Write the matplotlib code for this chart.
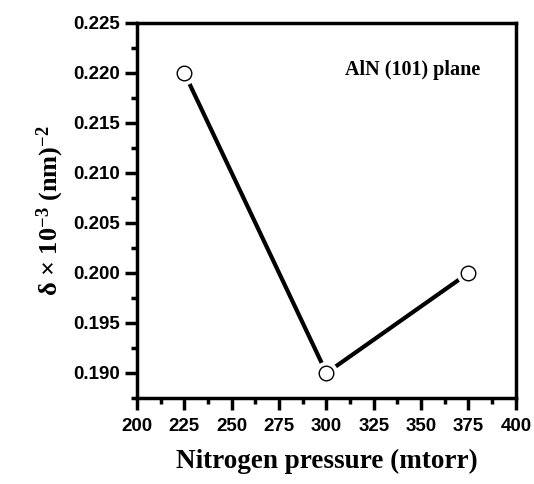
import matplotlib
matplotlib.use("Agg")
import matplotlib.pyplot as plt
from matplotlib.ticker import MultipleLocator, FormatStrFormatter

pressure = [225, 300, 375]
delta = [0.220, 0.190, 0.200]
xticks = [200, 225, 250, 275, 300, 325, 350, 375, 400]
yticks = [0.190, 0.195, 0.200, 0.205, 0.210, 0.215, 0.220, 0.225]

plt.rcParams['mathtext.fontset'] = 'custom'
plt.rcParams['mathtext.rm'] = 'Liberation Serif:bold'
plt.rcParams['mathtext.bf'] = 'Liberation Serif:bold'
plt.rcParams['mathtext.it'] = 'Liberation Serif:bold'

fig = plt.figure(figsize=(5.34, 4.84), dpi=100)
ax = fig.add_axes([0.2566, 0.1777, 0.7094, 0.7748])

ax.plot(pressure, delta, color='black', lw=3, zorder=2)
ax.plot(pressure, delta, 'o', ms=17, mfc='white', mec='white', mew=0, zorder=3)
ax.plot(pressure, delta, 'o', ms=10.5, mfc='white', mec='black', mew=1.0, zorder=4)

ax.set_xlim(200, 400)
ax.set_ylim(0.1875, 0.225)
ax.set_xticks(xticks)
ax.xaxis.set_minor_locator(MultipleLocator(12.5))
ax.yaxis.set_minor_locator(MultipleLocator(0.0025))
ax.yaxis.set_major_formatter(FormatStrFormatter('%.3f'))
ax.set_yticks(yticks)

for s in ax.spines.values():
    s.set_linewidth(2.5)
ax.tick_params(which='major', direction='out', length=8.5, width=2.5, pad=4,
               labelsize=13.5, top=False, right=False)
ax.tick_params(which='minor', direction='out', length=4, width=2.5, top=False, right=False)
ax.tick_params(axis='x', which='major', pad=6)
for lab in ax.get_xticklabels() + ax.get_yticklabels():
    lab.set_fontfamily('Liberation Sans')
    lab.set_fontweight('bold')

ax.set_xlabel('Nitrogen pressure (mtorr)', fontfamily='Liberation Serif',
              fontweight='bold', fontsize=19.5, labelpad=10)
ax.set_ylabel(r'δ × 10$^{-3}$ (nm)$^{-2}$', fontfamily='Liberation Serif',
              fontweight='bold', fontsize=19, labelpad=5)

ax.text(0.905, 0.875, 'AlN (101) plane', transform=ax.transAxes, ha='right', va='center',
        fontfamily='Liberation Serif', fontweight='bold', fontsize=14.5)

fig.savefig('out.png', dpi=100)
